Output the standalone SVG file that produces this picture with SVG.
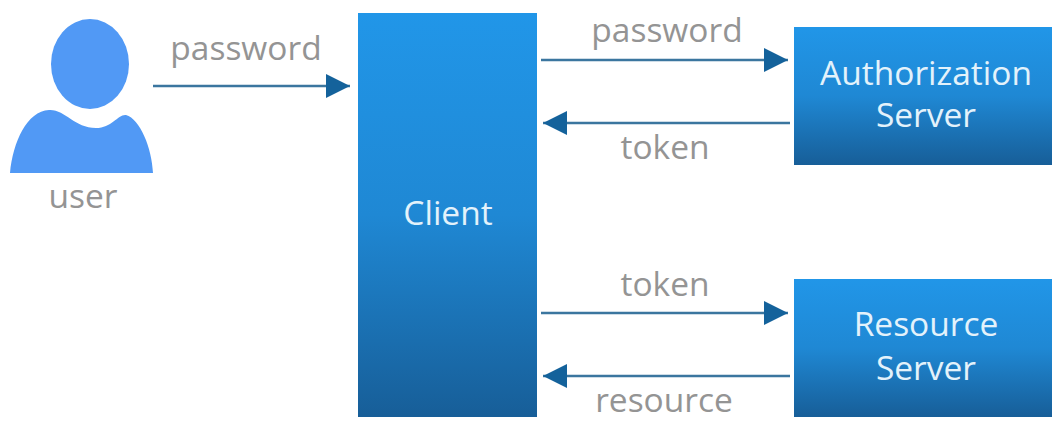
<svg xmlns="http://www.w3.org/2000/svg" width="1052" height="435" viewBox="0 0 1052 435">
<style>
text{font-family:"Open Sans","Noto Sans","Liberation Sans",sans-serif;font-size:33.5px;text-anchor:middle}
.l{fill:#949494}
.n{fill:#e3f2fb}
.c{stroke:#3b769f;stroke-width:2.5;fill:none;marker-end:url(#a)}
</style>
<defs>
<linearGradient id="g" x1="0" y1="0" x2="0" y2="1"><stop offset="0" stop-color="#2196e8"/><stop offset=".5" stop-color="#1f88d4"/><stop offset="1" stop-color="#175e98"/></linearGradient>
<marker id="a" markerUnits="userSpaceOnUse" markerWidth="24" markerHeight="24" refX="24" refY="12" orient="auto"><path d="M0 0L24 12L0 24Z" fill="#14629b"/></marker>
</defs>
<rect width="1052" height="435" fill="#fff"/>
<g id="user">
<ellipse cx="90" cy="64" rx="39" ry="45" fill="#5199f5"/>
<path d="M10 173C13 142 27 111 49 110C65 109 74 128 96 128C112 128 118 114 126 115C140 119 152 148 153 173Z" fill="#5199f5"/>
<text class="l" x="83" y="208">user</text>
</g>
<g id="client"><rect x="358" y="13" width="179" height="404" fill="url(#g)"/><text class="n" x="448" y="225">Client</text></g>
<g id="auth"><rect x="794" y="27" width="258" height="138" fill="url(#g)"/><text class="n" x="926" y="85">Authorization</text><text class="n" x="926" y="127">Server</text></g>
<g id="resource"><rect x="794" y="279" width="258" height="138" fill="url(#g)"/><text class="n" x="926" y="336">Resource</text><text class="n" x="926" y="380">Server</text></g>
<g id="connectors">
<path class="c" d="M153 86H350"/>
<path class="c" d="M541 60H788"/>
<path class="c" d="M790 123H543"/>
<path class="c" d="M541 313H788"/>
<path class="c" d="M790 376H543"/>
</g>
<g id="labels">
<text class="l" x="246" y="60">password</text>
<text class="l" x="667" y="42">password</text>
<text class="l" x="665" y="159">token</text>
<text class="l" x="665" y="296">token</text>
<text class="l" x="664" y="412">resource</text>
</g>
</svg>
